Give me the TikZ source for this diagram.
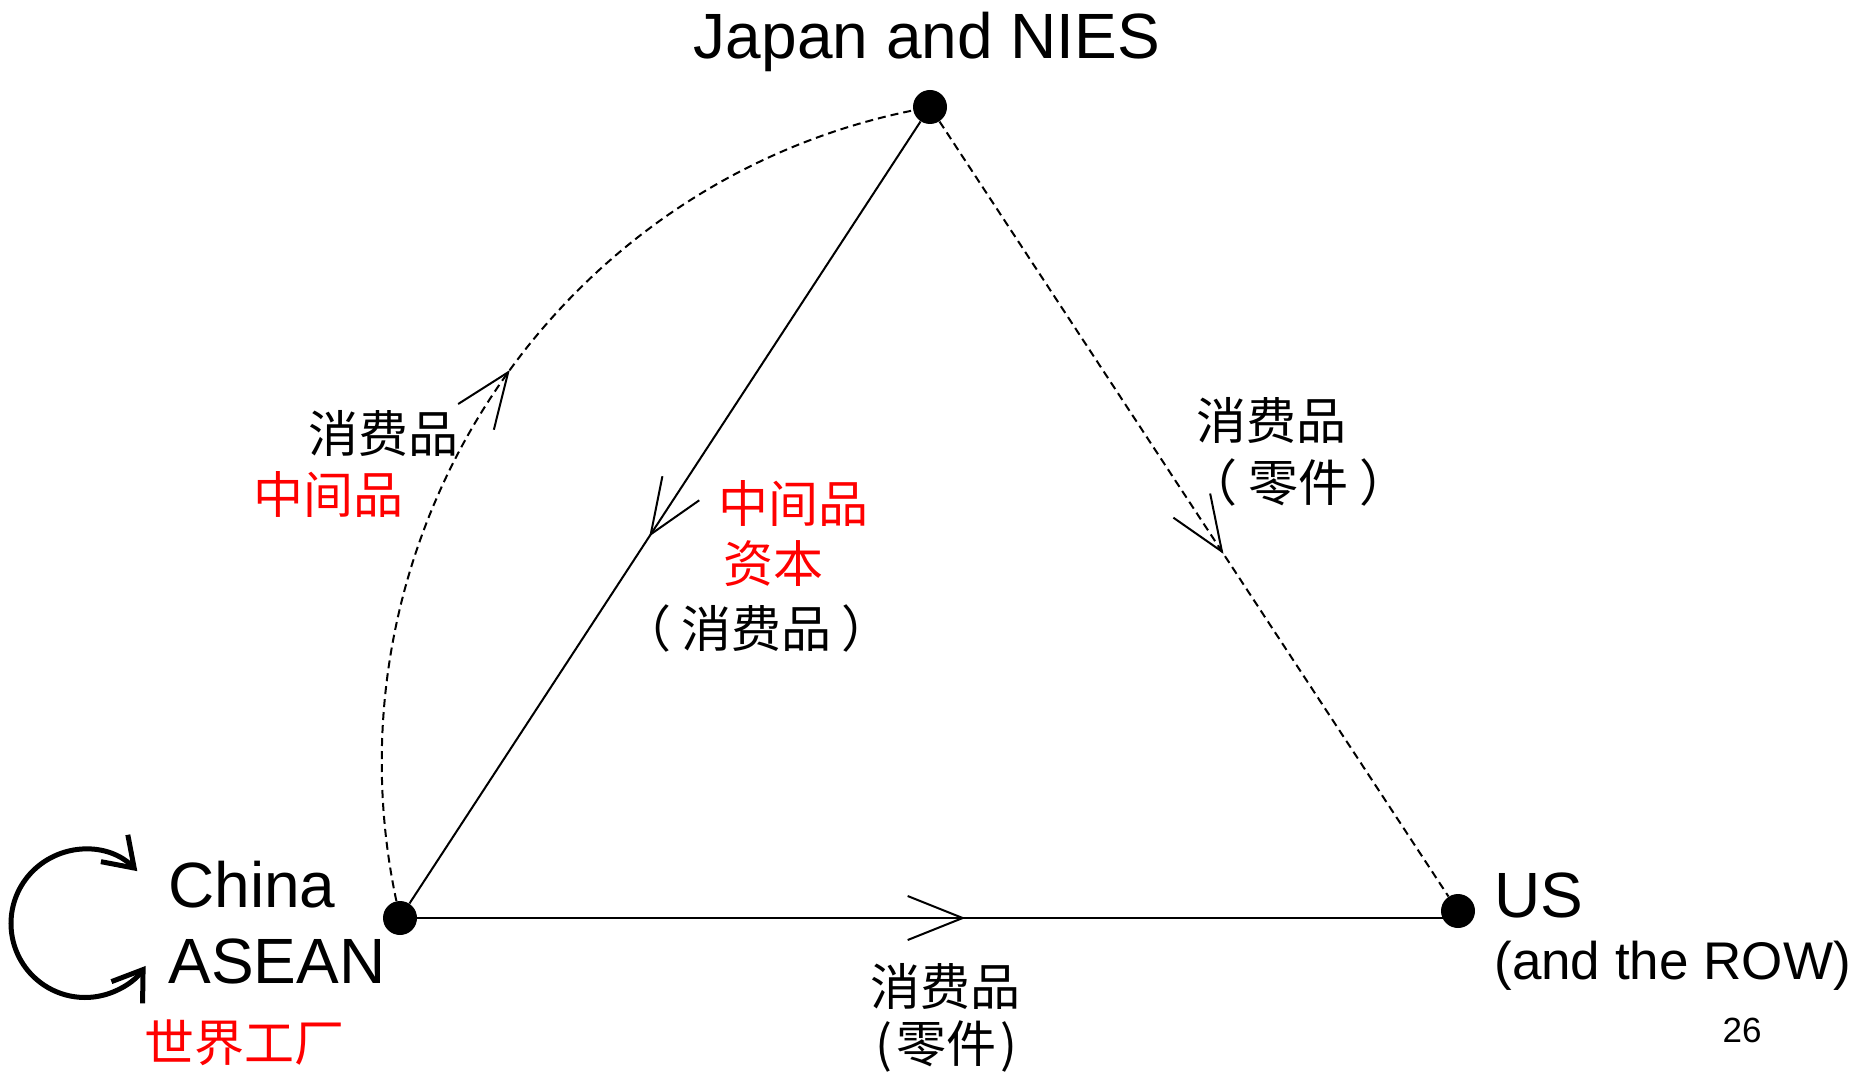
\documentclass[tikz,border=0pt]{standalone}
\usepackage{fontspec}
\setmainfont{Liberation Sans}
\newfontfamily\cjk{Noto Sans CJK SC}
\usetikzlibrary{arrows.meta,decorations.markings}
\tikzset{
  dot/.style={circle, fill=black, inner sep=0pt, minimum size=17pt},
  big/.style={font=\fontsize{32}{38}\selectfont, inner sep=0pt},
  mid/.style={font=\fontsize{26.5}{32}\selectfont, inner sep=0pt},
  zh/.style={font=\cjk\fontsize{25}{30}\selectfont, inner sep=0pt},
  zhred/.style={zh, text=red},
  solidline/.style={line width=1pt},
  dashline/.style={line width=1pt, dash pattern=on 4pt off 2.5pt},
  midarrow/.style={postaction={decorate, decoration={markings,
      mark=at position #1 with {\draw[solid, line width=1pt, line join=miter] (-27.5pt,11pt) -- (0pt,0pt) -- (-27.5pt,-11pt);}}}},
  loopbarb/.tip={Straight Barb[length=14pt,width=19pt]},
}
\begin{document}
\begin{tikzpicture}[x=0.5pt,y=0.5pt]
\useasboundingbox (0,0) rectangle (1854,1073);
% dots
\node[dot] (J) at (930,966) {};
\node[dot] (C) at (400,155) {};
\node[dot] (U) at (1458,162) {};
% labels of places
\node[big, anchor=base] (Jt) at (927,1014) {Japan and NIES};
\node[big, anchor=base west] (Ct) at (168,166) {China};
\node[big, anchor=base west] (At) at (168,90) {ASEAN};
\node[zhred] (Wf) at (244,30) {世界工厂};
\node[big, anchor=base west] (Ut) at (1494,156) {US};
\node[mid, anchor=base west] (Rt) at (1494,94) {(and the ROW)};
\node[font=\fontsize{17.5}{21}\selectfont, inner sep=0pt] (pg) at (1742,43) {26};
% connectors
\draw[solidline, midarrow=0.524] (C) -- (C -| U);
\draw[solidline, midarrow=0.528] (J) -- (C);
\draw[dashline, midarrow=0.555] (J) -- (U);
\draw[dashline, midarrow=0.53] (C) to[out=102, in=191.5] (J);
% self loop
\coordinate (L) at (85,149.5);
\draw[line width=2.5pt, loopbarb-loopbarb] ([shift={(45:37pt)}]L) arc[start angle=45, end angle=325, radius=37pt];
% flow labels
\node[zh] (l1) at (383,640) {消费品};
\node[zhred] (l2) at (328,579) {中间品};
\node[zhred] (m1) at (793,570) {中间品};
\node[zhred] (m2) at (773,509) {资本};
\node[zh] (m3) at (756,445) {（\hspace{5pt}消费品\hspace{5pt}）};
\node[zh] (r1) at (1271,653) {消费品};
\node[zh] (r2) at (1298,590) {（\hspace{5.5pt}零件\hspace{5.5pt}）};
\node[zh] (b1) at (945,87) {消费品};
\node[zh] (b2) at (946,27) {(\hspace{2pt}零件\hspace{2pt})};
\end{tikzpicture}
\end{document}
